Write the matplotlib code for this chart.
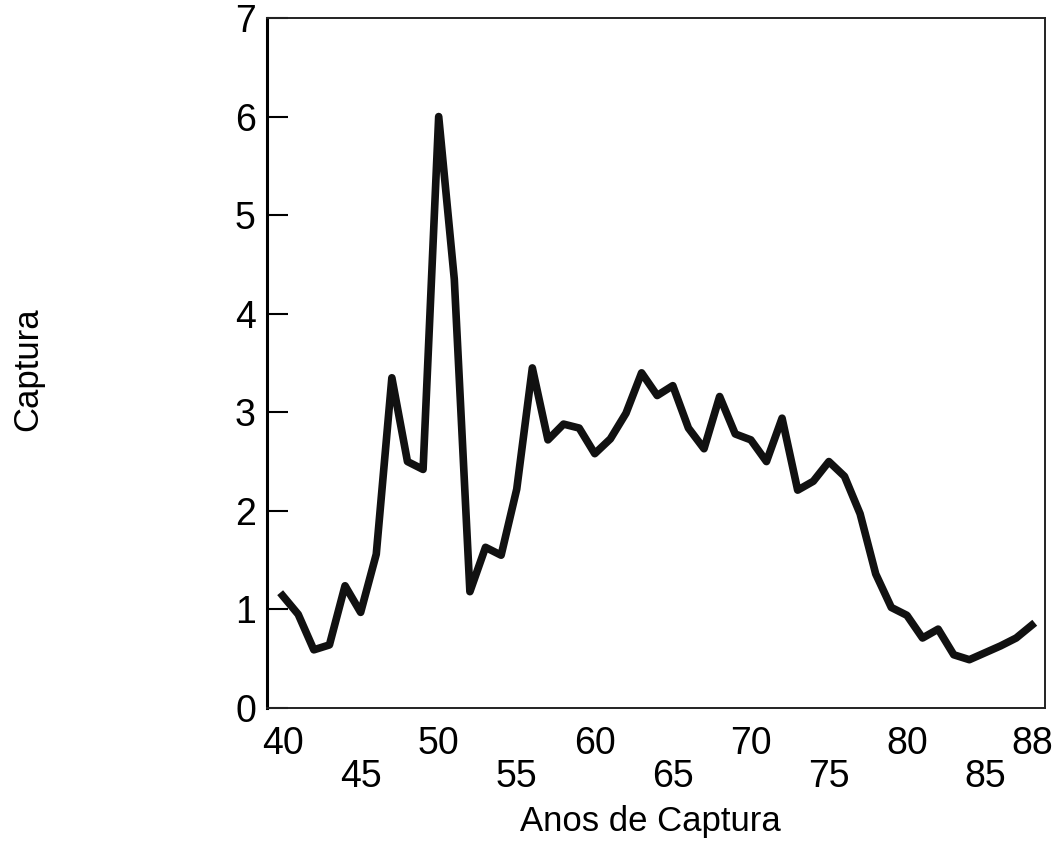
import matplotlib

matplotlib.use("Agg")
import matplotlib.pyplot as plt

plt.rcParams['font.family'] = ['Liberation Sans Narrow', 'Liberation Sans', 'DejaVu Sans']

# Annual catch, 1940-1988
anos = list(range(40, 89))
captura = [
    1.14, 0.95, 0.59, 0.64, 1.24, 0.97, 1.56, 3.35, 2.50, 2.42,  # 40-49
    6.00, 4.35, 1.18, 1.63, 1.55, 2.22, 3.45, 2.72, 2.88, 2.84,  # 50-59
    2.58, 2.73, 2.99, 3.40, 3.17, 3.27, 2.84, 2.63, 3.16, 2.78,  # 60-69
    2.72, 2.50, 2.94, 2.21, 2.30, 2.50, 2.35, 1.97, 1.36, 1.02,  # 70-79
    0.94, 0.71, 0.80, 0.54, 0.49, 0.56, 0.63, 0.71, 0.84,        # 80-88
]

ticks_linha1 = [40, 50, 60, 70, 80, 88]
ticks_linha2 = [45, 55, 65, 75, 85]
ticks_y = [0, 1, 2, 3, 4, 5, 6, 7]

fig = plt.figure(figsize=(10.57, 8.48), dpi=100)
ax = fig.add_axes([0.2526, 0.1651, 0.7361, 0.8137])

ax.plot(anos, captura, color='#111111', linewidth=5.5, solid_joinstyle='round')

ax.set_xlim(39.0, 88.85)
ax.set_ylim(0, 7)

# staggered year labels on two rows
ax.set_xticks(ticks_linha1)
ax.set_xticklabels([str(t) for t in ticks_linha1])
ax.set_xticks(ticks_linha2, minor=True)
ax.set_xticklabels([str(t) for t in ticks_linha2], minor=True)
ax.tick_params(axis='x', which='major', length=0, pad=13, labelsize=27)
ax.tick_params(axis='x', which='minor', length=0, pad=37, labelsize=27)

ax.set_yticks(ticks_y)
ax.tick_params(axis='y', direction='in', length=15, width=1.5, pad=8, labelsize=27)

for side in ['top', 'bottom', 'right']:
    ax.spines[side].set_linewidth(1.4)
    ax.spines[side].set_color('#222222')
ax.spines['left'].set_linewidth(2.2)

fig.text(0.615, 0.031, 'Anos de Captura', ha='center', va='center', fontsize=25)
fig.text(0.026, 0.565, 'Captura', ha='center', va='center', rotation=90, fontsize=25)

fig.savefig('out.png', dpi=100)
